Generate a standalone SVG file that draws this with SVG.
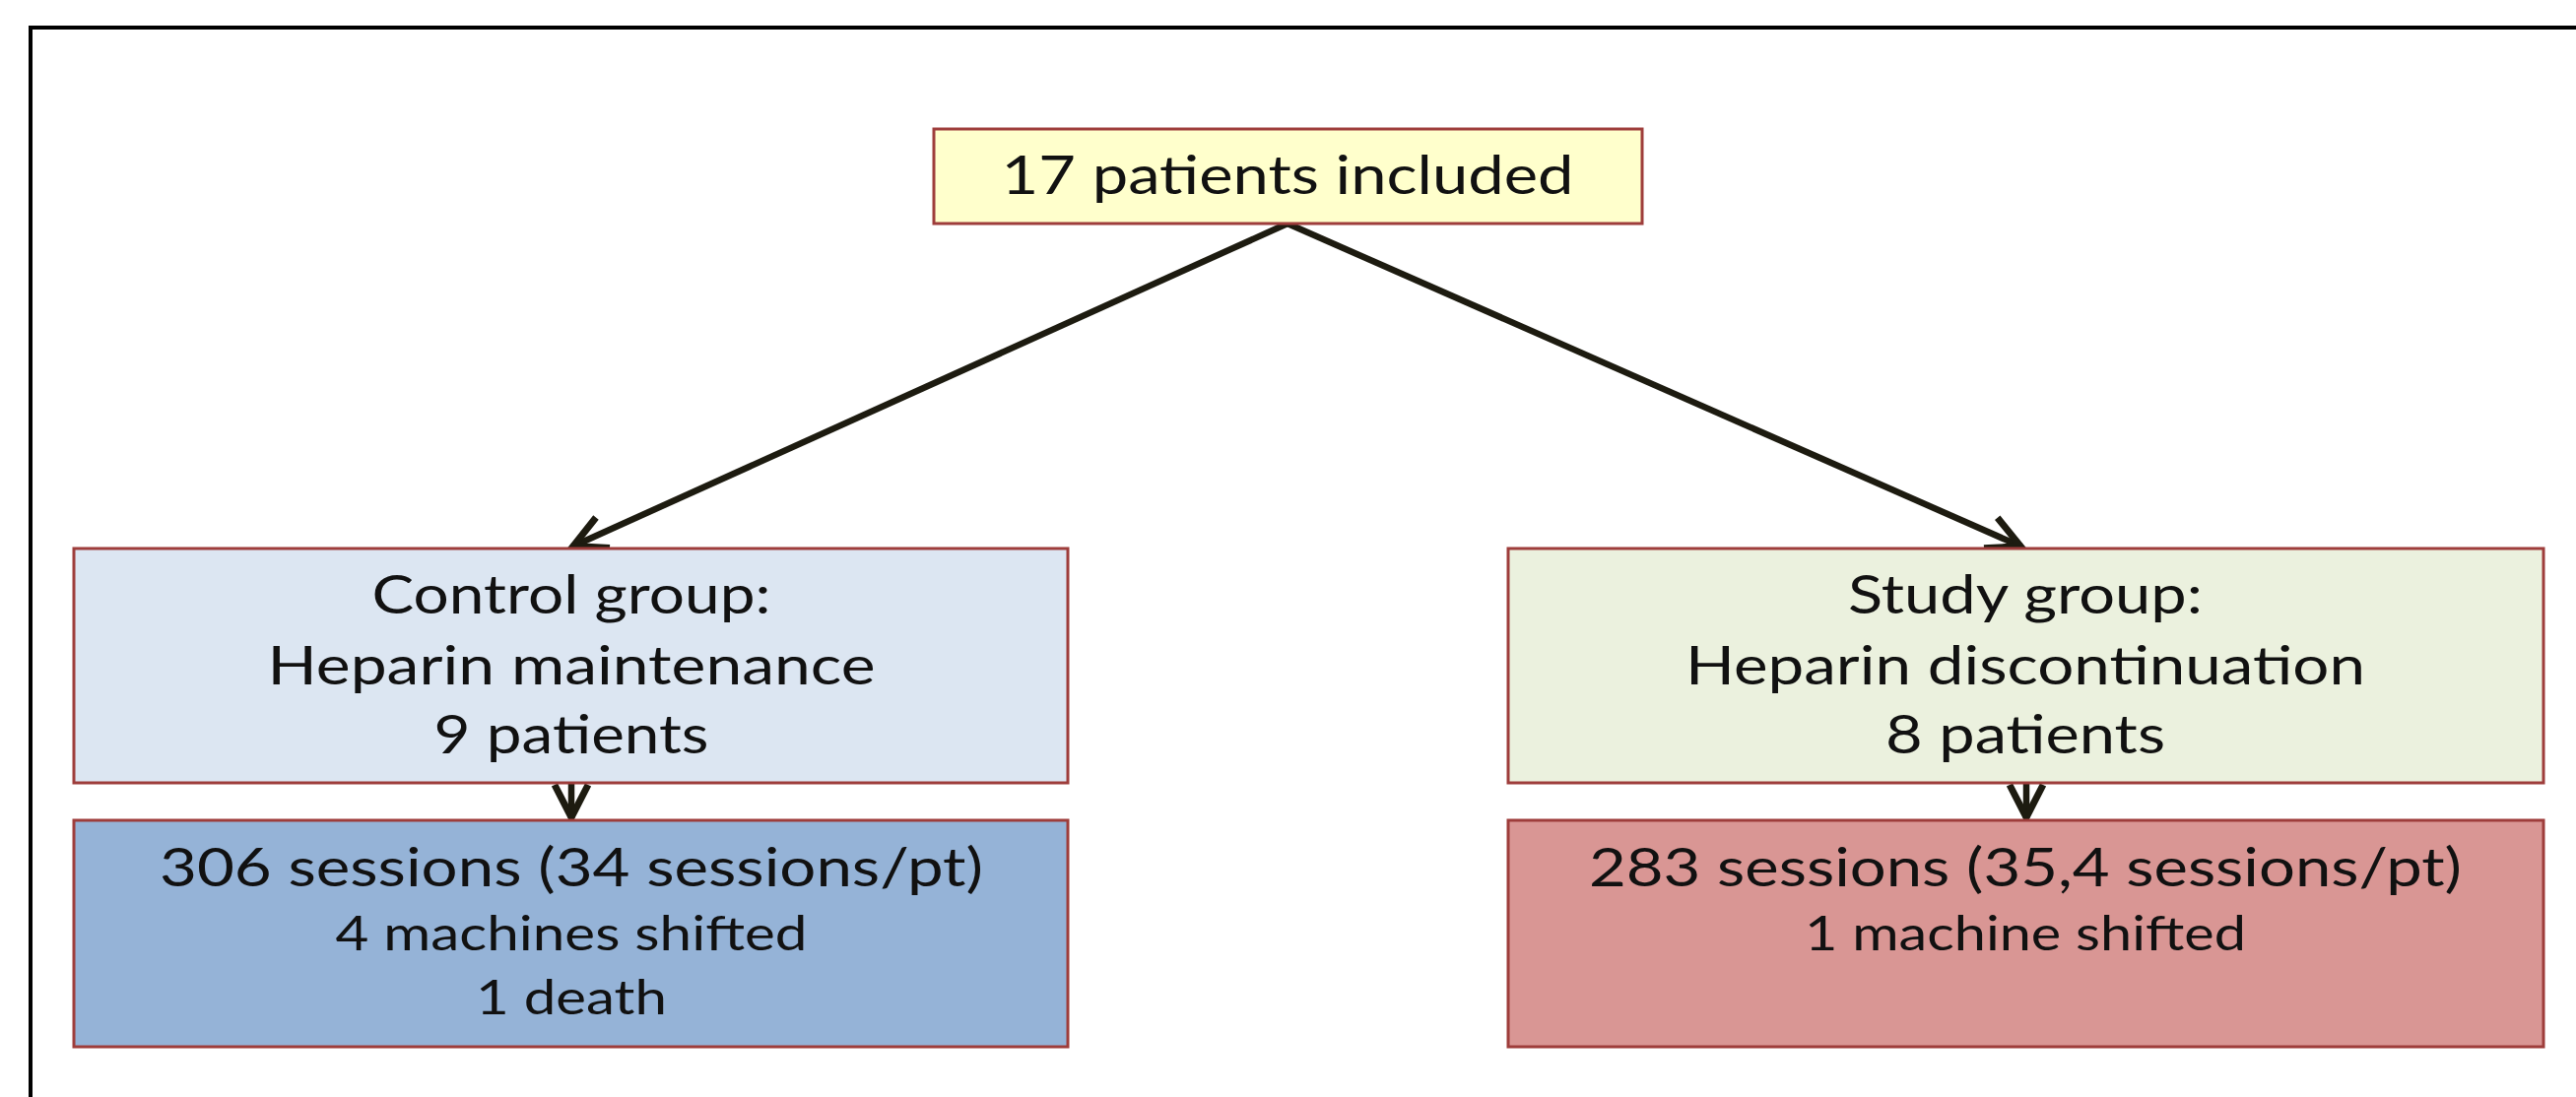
<svg xmlns="http://www.w3.org/2000/svg" width="2615" height="1114" viewBox="0 0 2615 1114">
<style>
.box{stroke:#9E3D3B;stroke-width:3}
.t{font-family:Lato,"Open Sans","Liberation Sans",sans-serif;font-size:54px;fill:#111;text-anchor:middle}
.s{font-size:48px}
.conn{stroke:#1D1B10;stroke-width:6.5;fill:none}
</style>
<defs>
<marker id="ah" markerUnits="userSpaceOnUse" viewBox="-42 -26 50 52" markerWidth="50" markerHeight="52" refX="0" refY="0" orient="auto">
<path d="M-34,-17 L-1,0 L-34,17" fill="none" stroke="#1D1B10" stroke-width="7" stroke-linejoin="miter"/>
</marker>
</defs>
<rect width="2615" height="1114" fill="#fff"/>
<path d="M31,1114 V28 H2615" fill="none" stroke="#000" stroke-width="4"/>
<g id="connectors">
<line class="conn" x1="1307" y1="227" x2="581" y2="555" marker-end="url(#ah)"/>
<line class="conn" x1="1307" y1="227" x2="2052" y2="555" marker-end="url(#ah)"/>
<line class="conn" x1="580" y1="795" x2="580" y2="831" marker-end="url(#ah)"/>
<line class="conn" x1="2057" y1="795" x2="2057" y2="831" marker-end="url(#ah)"/>
</g>
<g id="n-included">
<rect class="box" x="948" y="131" width="719" height="96" fill="#FFFFCC"/>
<text class="t" x="1307" y="197" textLength="581" lengthAdjust="spacingAndGlyphs">17 patients included</text>
</g>
<g id="n-control">
<rect class="box" x="75" y="557" width="1009" height="238" fill="#DCE6F2"/>
<text class="t" x="580" y="623" textLength="405" lengthAdjust="spacingAndGlyphs">Control group:</text>
<text class="t" x="580" y="695" textLength="617" lengthAdjust="spacingAndGlyphs">Heparin maintenance</text>
<text class="t" x="580" y="765" textLength="279" lengthAdjust="spacingAndGlyphs">9 patients</text>
</g>
<g id="n-study">
<rect class="box" x="1531" y="557" width="1051" height="238" fill="#EBF1DE"/>
<text class="t" x="2056" y="623" textLength="360" lengthAdjust="spacingAndGlyphs">Study group:</text>
<text class="t" x="2056" y="695" textLength="690" lengthAdjust="spacingAndGlyphs">Heparin discontinuation</text>
<text class="t" x="2056" y="765" textLength="284" lengthAdjust="spacingAndGlyphs">8 patients</text>
</g>
<g id="n-control-sessions">
<rect class="box" x="75" y="833" width="1009" height="230" fill="#95B3D7"/>
<text class="t" x="580" y="900" textLength="836" lengthAdjust="spacingAndGlyphs">306 sessions (34 sessions/pt)</text>
<text class="t s" x="580" y="965" textLength="479" lengthAdjust="spacingAndGlyphs">4 machines shifted</text>
<text class="t s" x="580" y="1030" textLength="194" lengthAdjust="spacingAndGlyphs">1 death</text>
</g>
<g id="n-study-sessions">
<rect class="box" x="1531" y="833" width="1051" height="230" fill="#D99694"/>
<text class="t" x="2056" y="900" textLength="886" lengthAdjust="spacingAndGlyphs">283 sessions (35,4 sessions/pt)</text>
<text class="t s" x="2056" y="965" textLength="448" lengthAdjust="spacingAndGlyphs">1 machine shifted</text>
</g>
</svg>
